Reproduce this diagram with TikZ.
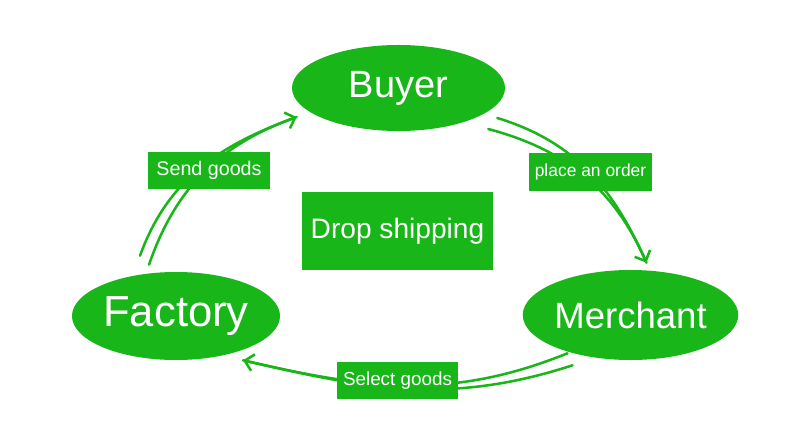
\documentclass[tikz,border=0pt]{standalone}
\usepackage{fontspec}
\setmainfont{Liberation Sans}
\definecolor{dsgreen}{RGB}{24,182,24}
\usetikzlibrary{arrows.meta,shapes.geometric}

\begin{document}
\begin{tikzpicture}[x=0.025cm, y=0.025cm,
    party/.style={ellipse, fill=dsgreen, text=white, inner sep=0pt},
    tag/.style={fill=dsgreen, text=white, inner sep=0pt},
    flow/.style={draw=dsgreen, line width=1.8pt, line cap=round},
    head/.style={-{Straight Barb[length=6pt,width=12pt]}}
  ]
    \useasboundingbox (0,0) rectangle (800,443);

    % The three parties
    \node[party, minimum width=5.325cm, minimum height=2.15cm,
          font=\fontsize{27}{30}\selectfont] (buyer) at (398.5,355) {Buyer};
    \node[party, minimum width=5.2cm, minimum height=2.2cm,
          font=\fontsize{31}{34}\selectfont] (factory) at (176,127) {Factory};
    \node[party, minimum width=5.275cm, minimum height=2.25cm,
          font=\fontsize{26}{29}\selectfont] (merchant) at (630.5,128) {Merchant};

    % Centre box
    \node[tag, minimum width=4.775cm, minimum height=1.95cm,
          font=\fontsize{20}{24}\selectfont] (drop) at (397.5,212) {Drop shipping};

    % Factory -> Buyer
    \draw[flow] ([shift={(-36,16)}]factory.north) to[out=70, in=200]
      ([shift={(5,-29)}]buyer.west);
    \draw[flow, head] ([shift={(-27,7)}]factory.north) to[out=71, in=200]
      ([shift={(5,-29)}]buyer.west);

    % Buyer -> Merchant
    \draw[flow] ([shift={(-8,-30)}]buyer.east) to[out=-17, in=114]
      ([shift={(16,7)}]merchant.north);
    \draw[flow, head] ([shift={(-17,-41)}]buyer.east) to[out=-15, in=114]
      ([shift={(16,7)}]merchant.north);

    % Merchant -> Factory
    \draw[flow] ([shift={(-63,7)}]merchant.south) to[out=202, in=-13]
      ([shift={(67,0)}]factory.south);
    \draw[flow, head] ([shift={(-58,-5)}]merchant.south) to[out=198, in=-13]
      ([shift={(67,0)}]factory.south);

    % Labels on the arrows
    \node[tag, minimum width=3.05cm, minimum height=0.925cm,
          font=\fontsize{14}{16}\selectfont] (send) at (209,272.5) {Send goods};
    \node[tag, minimum width=3.075cm, minimum height=0.95cm,
          font=\fontsize{12.4}{14}\selectfont] (order) at (590.5,271) {place an order};
    \node[tag, minimum width=3.025cm, minimum height=0.925cm,
          font=\fontsize{13.4}{15}\selectfont] (select) at (397.5,62.5) {Select goods};
  \end{tikzpicture}
\end{document}
